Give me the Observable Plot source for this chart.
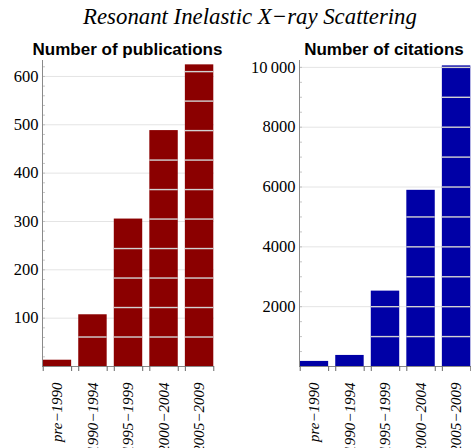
<!DOCTYPE html>
<html><head><meta charset="utf-8">
<script src="https://cdn.jsdelivr.net/npm/d3@7"></script>
<script src="https://cdn.jsdelivr.net/npm/@observablehq/plot@0.6"></script>
<style>
body{margin:0;background:#fff;width:471px;height:448px;position:relative;overflow:hidden;font-family:"Liberation Serif","Times New Roman",serif}
#title{position:absolute;left:0;width:500px;top:5.9px;line-height:1;text-align:center;font-style:italic;font-size:22.8px;color:#000;z-index:2}
.ptitle{position:absolute;width:220px;top:40.6px;line-height:1;text-align:center;font-family:"Liberation Sans",Arial,sans-serif;font-weight:bold;font-size:17px;color:#000;z-index:2}
#left,#right{position:absolute;top:0}
#left{left:0}
#right{left:240px}
#left svg, #right svg, #left svg text, #right svg text{font-family:"Liberation Serif","Times New Roman",serif !important}
</style>
</head><body>
<div id="title">Resonant Inelastic X−ray Scattering</div>
<div class="ptitle" style="left:17.5px">Number of publications</div>
<div class="ptitle" style="left:274px">Number of citations</div>
<div id="left"></div>
<div id="right"></div>
<script>
const categories = ["pre−1990", "1990−1994", "1995−1999", "2000−2004", "2005−2009"];
const publications = [13, 107, 305, 488, 624];
const citations = [170, 370, 2520, 5890, 10050];
const pubTicks = [100, 200, 300, 400, 500, 600];
const citTicks = [2000, 4000, 6000, 8000, 10000];
const pubStripes = [61, 122, 183, 244, 305, 366, 427, 488, 549, 610];
const citStripes = [1000, 2000, 3000, 4000, 5000, 6000, 7000, 8000, 9000, 10000];

const serif = '"Liberation Serif","Times New Roman",serif';
const PI = 0.2, PO = 0.02;

function panel({values, color, stripes, yMax, ticks, minorStep, fmt, width, marginLeft, marginRight}) {
  const marginTop = 60, marginBottom = 82, height = 448;
  const innerW = width - marginLeft - marginRight;
  const n = categories.length;
  const step = innerW / (n - PI + 2 * PO);
  const bw = step * (1 - PI);
  const table = categories.map((c, i) => ({c, v: values[i]}));
  const stripeRows = [];
  table.forEach(d => stripes.forEach(s => { if (s < d.v - 1) stripeRows.push({c: d.c, s}); }));
  const minors = d3.range(0, yMax, minorStep);
  return Plot.plot({
    width, height, marginTop, marginBottom, marginLeft, marginRight,
    style: {background: "transparent", fontFamily: serif, color: "#000", overflow: "visible"},
    x: {type: "band", domain: categories, paddingInner: PI, paddingOuter: PO, round: false, label: null},
    y: {domain: [0, yMax], label: null},
    marks: [
      Plot.ruleY(ticks, {y: d => d, stroke: "#e4e4e4", strokeWidth: 1}),
      Plot.barY(table, {x: "c", y: "v", fill: color}),
      Plot.tickY(stripeRows, {x: "c", y: "s", stroke: "#d2d2d2", strokeWidth: 1.4}),
      Plot.ruleY(minors, {y: d => d, stroke: "#b8b8b8", strokeWidth: 0.8, insetRight: innerW - 3}),
      Plot.ruleY([0], {stroke: "#8a8a8a", strokeWidth: 1}),
      Plot.frame({anchor: "left", stroke: "#8a8a8a", strokeWidth: 1}),
      Plot.ruleX(categories, {x: d => d, y1: 0, y2: 0, insetBottom: -5, dx: -bw / 2, stroke: "#666"}),
      Plot.ruleX(categories, {x: d => d, y1: 0, y2: 0, insetBottom: -5, dx: bw / 2, stroke: "#666"}),
      Plot.axisY({ticks, tickSize: 0, tickPadding: 4, fontSize: 16.5, fontFamily: serif, tickFormat: fmt, label: null}),
      Plot.axisX({tickSize: 0, tickPadding: 16, tickRotate: -90, fontSize: 15, fontStyle: "italic", fontFamily: serif, label: null})
    ]
  });
}

document.getElementById("left").append(panel({
  values: publications, color: "#8b0000", stripes: pubStripes, yMax: 633, ticks: pubTicks, minorStep: 20,
  fmt: d => String(d), width: 236, marginLeft: 42, marginRight: 22
}));
document.getElementById("right").append(panel({
  values: citations, color: "#0000a6", stripes: citStripes, yMax: 10230, ticks: citTicks, minorStep: 500,
  fmt: d => d >= 10000 ? d3.format(",")(d).replace(",", "\u2009") : String(d), width: 231, marginLeft: 59, marginRight: 0
}));
</script>
</body></html>
